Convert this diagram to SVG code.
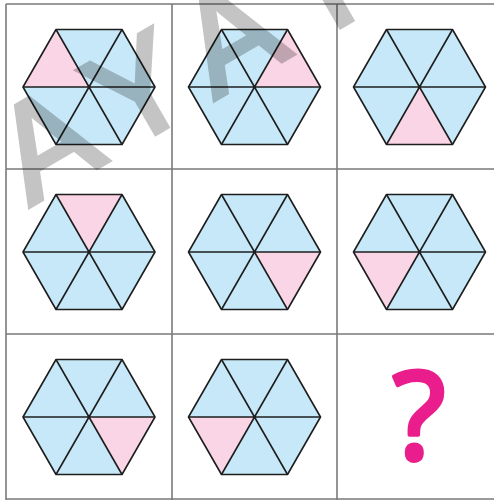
<svg xmlns="http://www.w3.org/2000/svg" width="494" height="500" viewBox="0 0 494 500">
<defs>
<style>
.grid{stroke:#7a7a7a;stroke-width:1.6;fill:none}
.b{fill:#c6e8f8}
.p{fill:#f9d5e5}
.edge{stroke:#1e1e1e;stroke-width:1.6;fill:none;stroke-linejoin:round}
.wm{font-family:"Liberation Sans",Arial,sans-serif;font-size:136px;letter-spacing:26px;fill:#c4c4c4;stroke:#c4c4c4;stroke-width:5;mix-blend-mode:multiply}
</style>
<g id="hex">
<polygon class="b" points="-66,0 -33,-57.5 33,-57.5 66,0 33,57.5 -33,57.5"/>
</g>
<g id="lines">
<polygon class="edge" points="-66,0 -33,-57.5 33,-57.5 66,0 33,57.5 -33,57.5"/>
<path class="edge" d="M-66,0H66M-33,-57.5L33,57.5M33,-57.5L-33,57.5"/>
</g>
</defs>
<rect width="494" height="500" fill="#fff"/>
<g id="cell1" transform="translate(89,87)"><use href="#hex"/><polygon class="p" points="0,0 -66,0 -33,-57.5"/><use href="#lines"/></g>
<g id="cell2" transform="translate(254.5,87)"><use href="#hex"/><polygon class="p" points="0,0 66,0 33,-57.5"/><use href="#lines"/></g>
<g id="cell3" transform="translate(419.5,87)"><use href="#hex"/><polygon class="p" points="0,0 -33,57.5 33,57.5"/><use href="#lines"/></g>
<g id="cell4" transform="translate(89,252)"><use href="#hex"/><polygon class="p" points="0,0 -33,-57.5 33,-57.5"/><use href="#lines"/></g>
<g id="cell5" transform="translate(254.5,252)"><use href="#hex"/><polygon class="p" points="0,0 66,0 33,57.5"/><use href="#lines"/></g>
<g id="cell6" transform="translate(419.5,252)"><use href="#hex"/><polygon class="p" points="0,0 -66,0 -33,57.5"/><use href="#lines"/></g>
<g id="cell7" transform="translate(89,417)"><use href="#hex"/><polygon class="p" points="0,0 66,0 33,57.5"/><use href="#lines"/></g>
<g id="cell8" transform="translate(254.5,417)"><use href="#hex"/><polygon class="p" points="0,0 -66,0 -33,57.5"/><use href="#lines"/></g>
<g id="cell9"><text x="419" y="459" text-anchor="middle" font-family="'Noto Sans',sans-serif" font-size="122" fill="#e91e8c" stroke="#e91e8c" stroke-width="4" stroke-linejoin="round">?</text></g>
<g id="gridlines">
<path class="grid" d="M6,4V500M172,4V500M337,4V500M6,4H494M6,169H494M6,334H494M6,499H494"/>
</g>
<text class="wm" transform="translate(30,206) rotate(-30)">AYAYA</text>
</svg>
